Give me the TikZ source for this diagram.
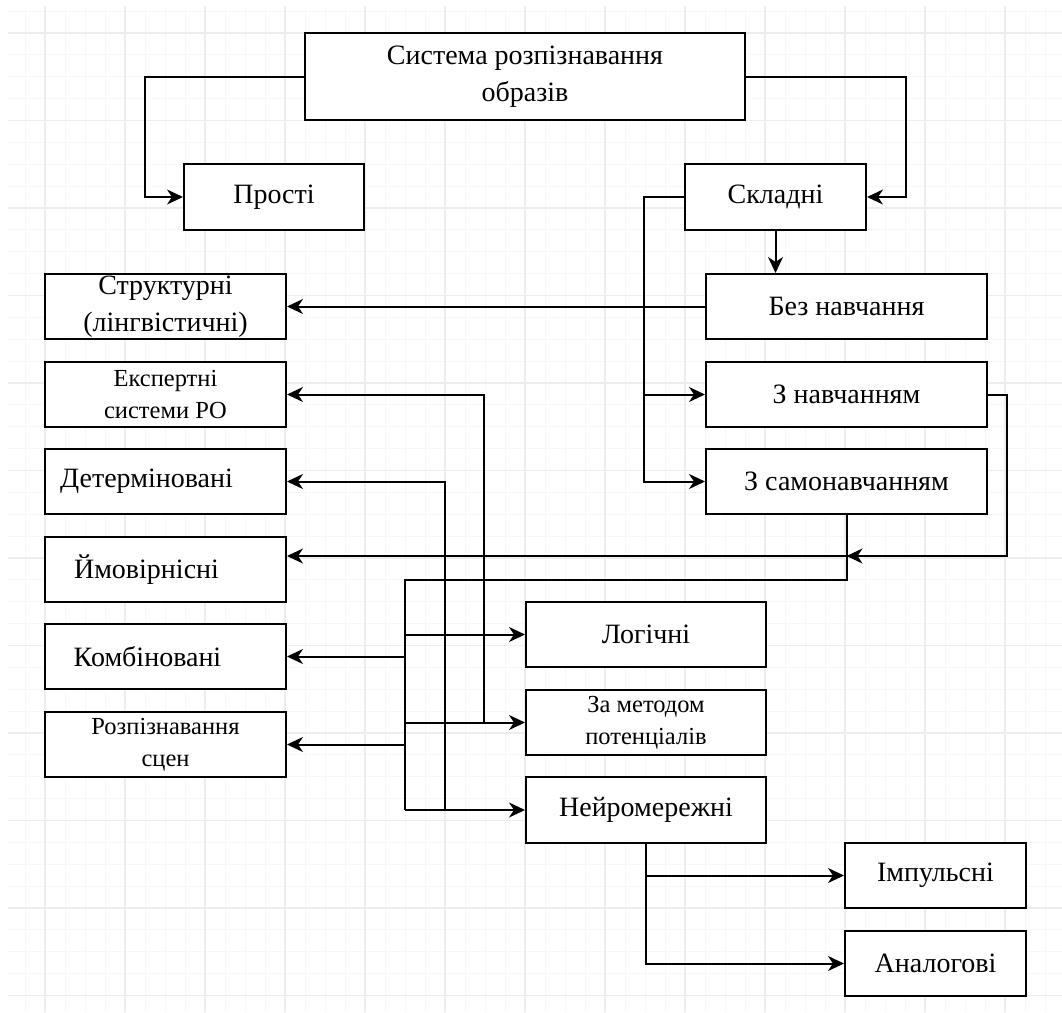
\documentclass[tikz,border=0pt]{standalone}
\usepackage{fontspec}
\setmainfont{Liberation Serif}
\usetikzlibrary{arrows.meta}

\tikzset{
  box/.style={draw, line width=2pt, fill=white, minimum height=65pt, inner sep=0pt,
    align=center, font=\fontsize{28}{37}\selectfont},
  smalltext/.style={font=\fontsize{24.5}{32}\selectfont},
  link/.style={line width=2pt},
  arr/.style={line width=2pt, -{Stealth[length=16pt,width=15pt,inset=5pt]}},
  minorgrid/.style={gray!6, line width=1pt},
  majorgrid/.style={gray!14, line width=1.3pt},
}

\begin{document}
\begin{tikzpicture}[x=1pt,y=-1pt,line join=miter]
  \useasboundingbox (0,0) rectangle (1062,1012);
  % background grid
  \begin{scope}
    \clip (8,6) rectangle (1062,1012);
    \foreach \x in {5,25,...,1065} \draw[minorgrid] (\x,6) -- (\x,1012);
    \foreach \k in {0,...,46} \draw[minorgrid] (8,{11.125+21.875*\k}) -- (1062,{11.125+21.875*\k});
    \foreach \x in {45,125,...,1045} \draw[majorgrid] (\x,6) -- (\x,1012);
    \foreach \k in {0,...,11} \draw[majorgrid] (8,{33+87.5*\k}) -- (1062,{33+87.5*\k});
  \end{scope}

  % top levels
  \node[box, minimum width=440pt, minimum height=87pt] (sys) at (525,76.5) {Система розпізнавання\\образів};
  \node[box, minimum width=180pt, minimum height=66pt] (prosti) at (274,197) {Прості};
  \node[box, minimum width=181pt, minimum height=66pt] (skladni) at (775.5,197) {Складні};

  % right column
  \node[box, minimum width=281pt] (bez) at (846.5,306.5) {Без навчання};
  \node[box, minimum width=281pt] (znavch) at (846.5,394.5) {З навчанням};
  \node[box, minimum width=281pt] (zsamo) at (846.5,481.5) {З самонавчанням};

  % left column
  \node[box, minimum width=241pt] (strukt) at (165.5,306.5) {Структурні\\(лінгвістичні)};
  \node[box, smalltext, minimum width=241pt] (expert) at (165.5,394.5) {Експертні\\системи РО};
  \node[box, minimum width=241pt] (determ) at (165.5,481.5) {Детерміновані\hspace*{38pt}};
  \node[box, minimum width=241pt] (ymov) at (165.5,569.5) {Ймовірнісні\hspace*{38pt}};
  \node[box, minimum width=241pt] (kombi) at (165.5,656.5) {Комбіновані\hspace*{36pt}};
  \node[box, smalltext, minimum width=241pt] (scen) at (165.5,744.5) {Розпізнавання\\сцен};

  % middle column
  \node[box, minimum width=240pt] (logic) at (646,634.5) {Логічні};
  \node[box, smalltext, minimum width=240pt] (potenc) at (646,722.5) {За методом\\потенціалів};
  \node[box, minimum width=240pt, minimum height=66pt] (neuro) at (646,810) {Нейромережні};

  % bottom right
  \node[box, minimum width=181pt] (impuls) at (935.5,875.5) {Імпульсні};
  \node[box, minimum width=181pt] (analog) at (935.5,963.5) {Аналогові};

  % connectors
  \draw[arr] (sys.west) -- ++(-159,0) |- (prosti.west);
  \draw[arr] (sys.east) -- ++(160,0) |- (skladni.east);
  \draw[arr] (skladni.south) -- (skladni.south |- bez.north);
  \draw[arr] (skladni.west) -- ++(-40,0) coordinate (skl) |- (zsamo.west);
  \draw[arr] (skl) |- (znavch.west);
  \draw[arr] (bez.west) -- (strukt.east);

  \coordinate (jn) at (846.5,556);
  \draw[arr] (znavch.east) -- ++(19,0) |- (jn);
  \draw[arr] (jn) -- (jn -| ymov.east);

  \coordinate (bus) at (405,580);
  \draw[link] (zsamo.south) |- (bus) -- (bus |- neuro.west);
  \draw[arr] (bus |- logic.west) -- (logic.west);
  \draw[arr] (bus |- kombi.east) -- (kombi.east);
  \draw[arr] (bus |- potenc.west) -- (potenc.west);
  \draw[arr] (bus |- scen.east) -- (scen.east);
  \draw[arr] (bus |- neuro.west) -- (neuro.west);

  \draw[arr] ([xshift=-41pt]potenc.west) |- (expert.east);
  \draw[arr] ([xshift=-80pt]neuro.west) |- (determ.east);

  \draw[arr] (neuro.south) |- (impuls.west);
  \draw[arr] (neuro.south) |- (analog.west);
\end{tikzpicture}
\end{document}
